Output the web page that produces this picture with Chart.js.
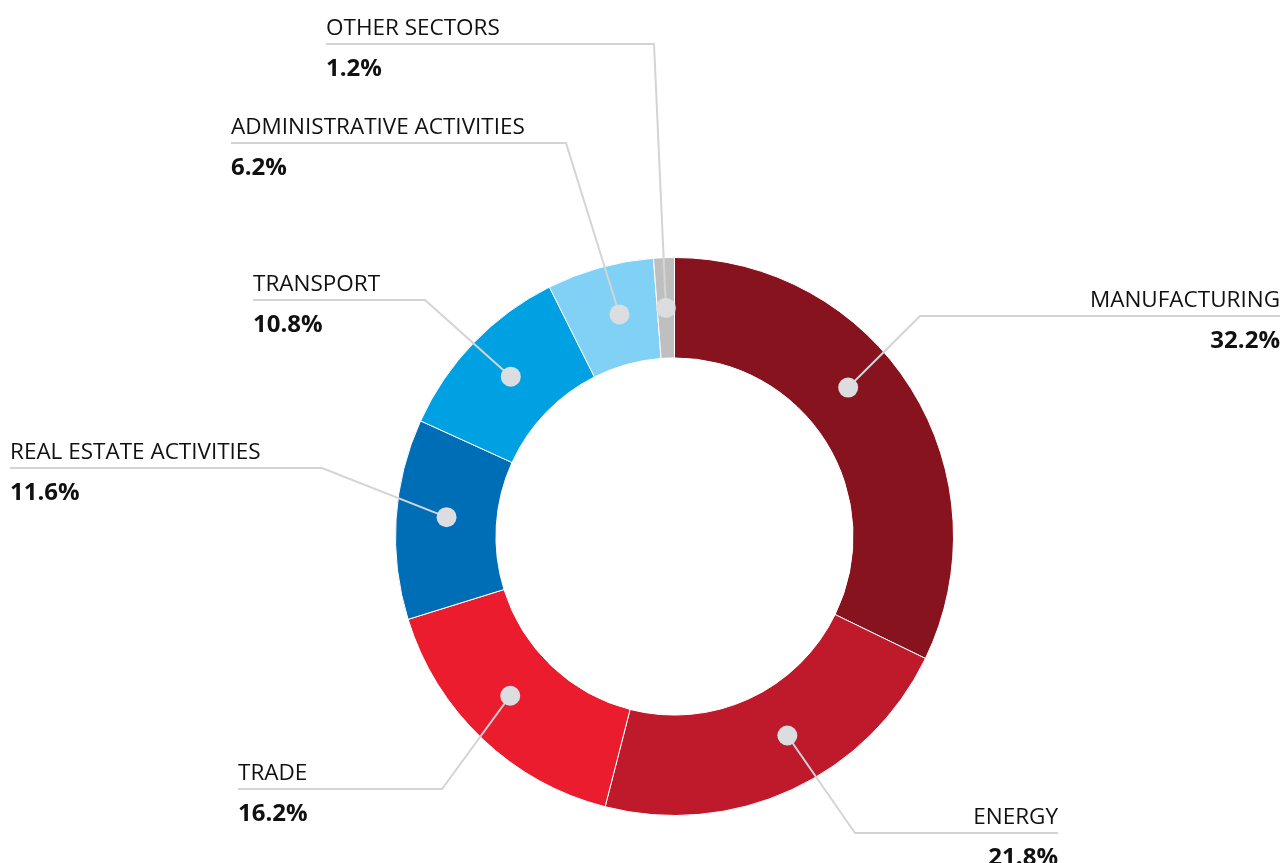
<!DOCTYPE html>
<html>
<head>
<meta charset="utf-8">
<script src="https://cdn.jsdelivr.net/npm/chart.js@4"></script>
<style>
html,body{margin:0;padding:0;background:#fff;}
#wrap{width:1285px;height:863px;position:relative;}
</style>
</head>
<body>
<div id="wrap"><canvas id="c" width="1285" height="863"></canvas></div>
<script>
const categories = ['MANUFACTURING','ENERGY','TRADE','REAL ESTATE ACTIVITIES','TRANSPORT','ADMINISTRATIVE ACTIVITIES','OTHER SECTORS'];
const shares = [32.2, 21.8, 16.2, 11.6, 10.8, 6.2, 1.2];
const valueLabels = ['32.2%','21.8%','16.2%','11.6%','10.8%','6.2%','1.2%'];

const colors = ['#87131f','#be1a2b','#ec1c2f','#006db7','#00a1e2','#81d1f6','#bfbfbf'];
// label layout: elbow point, end of underline, alignment, dot position within segment
const labelLayout = [
  {ex:920, ey:316, endX:1280, align:'right', dotFrac:0.426},
  {ex:855, ey:833, endX:1058, align:'right', dotFrac:0.44},
  {ex:442, ey:789, endX:238,  align:'left',  dotFrac:0.54},
  {ex:322, ey:468, endX:10,   align:'left',  dotFrac:0.53},
  {ex:425, ey:300, endX:253,  align:'left',  dotFrac:0.51},
  {ex:566, ey:143, endX:231,  align:'left',  dotFrac:0.57},
  {ex:654, ey:44,  endX:326,  align:'left',  dotFrac:0.5}
];

const leaderPlugin = {
  id:'leaders',
  afterDatasetsDraw(chart){
    const ctx = chart.ctx;
    const meta = chart.getDatasetMeta(0);
    ctx.save();
    meta.data.forEach((arc, i) => {
      const p = arc.getProps(['x','y','startAngle','endAngle','innerRadius','outerRadius'], true);
      const L = labelLayout[i];
      const a = p.startAngle + (p.endAngle - p.startAngle) * L.dotFrac;
      const r = (p.innerRadius + p.outerRadius) / 2;
      const dx = p.x + Math.cos(a) * r;
      const dy = p.y + Math.sin(a) * r;
      ctx.strokeStyle = '#d3d4d6';
      ctx.lineWidth = 2;
      ctx.beginPath();
      ctx.moveTo(dx, dy);
      ctx.lineTo(L.ex, L.ey);
      ctx.lineTo(L.endX, L.ey);
      ctx.stroke();
      ctx.fillStyle = '#dcdde0';
      ctx.beginPath();
      ctx.arc(dx, dy, 10, 0, Math.PI*2);
      ctx.fill();
      ctx.fillStyle = '#111';
      ctx.textAlign = L.align;
      ctx.textBaseline = 'alphabetic';
      ctx.font = '400 22.5px "Open Sans", "Noto Sans", sans-serif';
      ctx.fillText(categories[i], L.endX, L.ey - 9);
      ctx.font = '700 24px "Open Sans", "Noto Sans", sans-serif';
      ctx.fillText(valueLabels[i], L.endX, L.ey + 32);
    });
    ctx.restore();
  }
};

new Chart(document.getElementById('c'), {
  type:'doughnut',
  data:{
    labels: categories,
    datasets:[{
      data: shares,
      backgroundColor: colors,
      borderColor:'#ffffff',
      borderWidth:1,
      hoverOffset:0
    }]
  },
  options:{
    responsive:false,
    animation:false,
    events:[],
    cutout:'64%',
    layout:{padding:{left:395, right:331, top:257, bottom:47}},
    plugins:{legend:{display:false}, tooltip:{enabled:false}}
  },
  plugins:[leaderPlugin]
});
</script>
</body>
</html>
